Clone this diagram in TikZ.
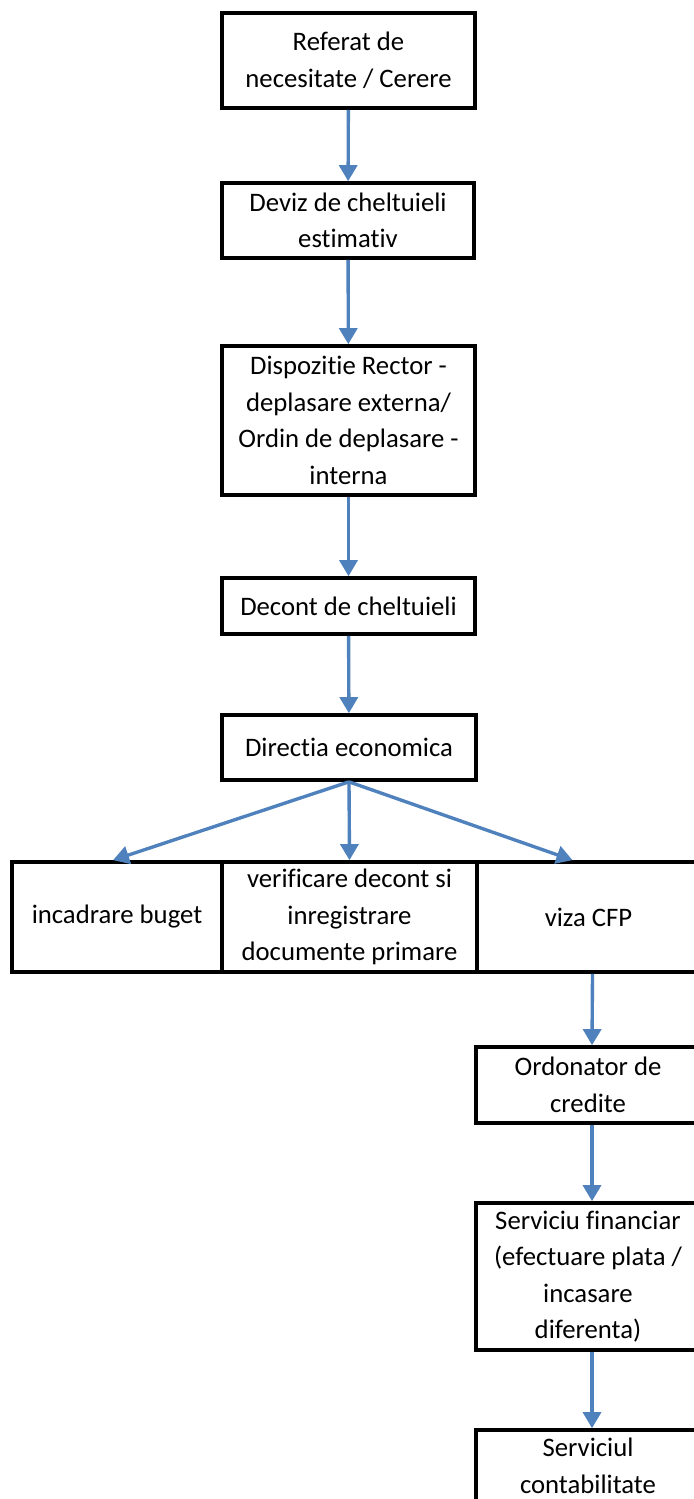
\documentclass[tikz,border=0pt]{standalone}
\usepackage{fontspec}
\setmainfont{Carlito}[Ligatures=NoCommon]
\usepackage{tikz}
\usetikzlibrary{arrows.meta,positioning,calc}
\definecolor{flowblue}{RGB}{79,129,189}

\begin{document}
\begin{tikzpicture}[x=0.025cm,y=-0.025cm,>={Triangle[width=0.45cm,length=0.4cm]},
 stage/.style={rectangle,draw,line width=2.6pt,align=center,inner sep=0pt,font=\fontsize{19}{26}\selectfont},
 flow/.style={->,line width=2.4pt,flowblue}]
\path[use as bounding box,clip] (0,0) rectangle (694,1499);
% main column
\node[stage,minimum width=6.325cm,minimum height=2.375cm] (referat) at (348.5,60.5) {Referat de\\necesitate / Cerere};
\node[stage,minimum width=6.3cm,minimum height=1.875cm] (deviz) at (348,220.5) {Deviz de cheltuieli\\estimativ};
\node[stage,minimum width=6.325cm,minimum height=3.725cm] (dispozitie) at (348.5,420.5) {Dispozitie Rector -\\deplasare externa/\\Ordin de deplasare -\\interna};
\node[stage,minimum width=6.325cm,minimum height=1.4cm] (decont) at (348.5,606) {Decont de cheltuieli};
\node[stage,minimum width=6.35cm,minimum height=1.625cm] (directia) at (349,747.5) {Directia economica};
% row of three
\node[stage,minimum width=5.25cm,minimum height=2.75cm] (buget) at (117,917) {incadrare buget};
\node[stage,minimum width=6.375cm,minimum height=2.75cm] (verificare) at (349.5,917) {verificare decont si\\inregistrare\\documente primare};
\node[stage,minimum width=5.575cm,minimum height=2.75cm] (viza) at (588.5,917) {viza CFP};
% right column
\node[stage,minimum width=5.6cm,minimum height=1.9cm] (ordonator) at (588,1085) {Ordonator de\\credite};
\node[stage,minimum width=5.6cm,minimum height=3.675cm] (financiar) at (588,1276.5) {Serviciu financiar\\(efectuare plata /\\incasare\\diferenta)};
\node[stage,minimum width=5.6cm,minimum height=1.8cm] (contabilitate) at (588,1466) {Serviciul\\contabilitate};
% arrows
\draw[flow] (referat) -- (deviz);
\draw[flow] (deviz) -- (dispozitie);
\draw[flow] (dispozitie) -- (decont);
\draw[flow] (decont) -- (directia);
\draw[flow] (directia.south) -- ([xshift=-0.1cm]buget.north);
\draw[flow] (directia.south) -- (verificare.north);
\draw[flow] (directia.south) -- ([xshift=-0.4cm]viza.north);
\draw[flow] ([xshift=0.1cm]viza.south) -- ([xshift=0.1cm]ordonator.north);
\draw[flow] ([xshift=0.1cm]ordonator.south) -- ([xshift=0.1cm]financiar.north);
\draw[flow] ([xshift=0.1cm]financiar.south) -- ([xshift=0.1cm]contabilitate.north);
\end{tikzpicture}
\end{document}
